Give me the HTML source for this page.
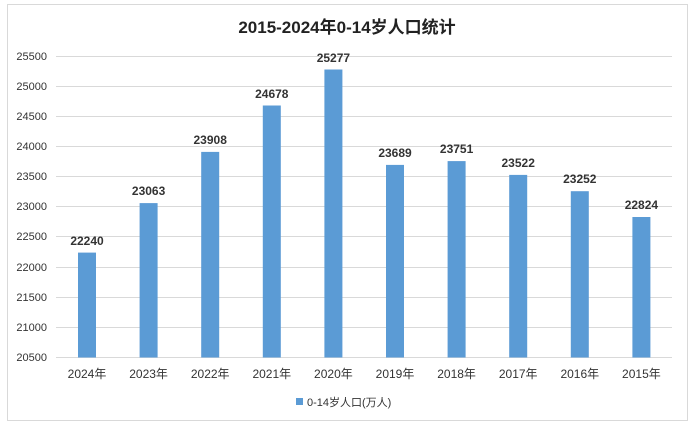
<!DOCTYPE html><html><head><style>body{margin:0;background:#fff}</style></head><body>
<svg width="695" height="428" xmlns="http://www.w3.org/2000/svg" font-family="Liberation Sans, Noto Sans CJK SC, sans-serif">
<rect x="7.5" y="4.5" width="680" height="416" fill="#fff" stroke="#d9d9d9"/>
<text x="347" y="33" text-anchor="middle" font-size="17" font-weight="bold" fill="#222">2015-2024年0-14岁人口统计</text>
<g stroke="#d9d9d9" stroke-width="1">
<line x1="56" x2="672" y1="56.5" y2="56.5"/><line x1="56" x2="672" y1="86.5" y2="86.5"/><line x1="56" x2="672" y1="116.5" y2="116.5"/><line x1="56" x2="672" y1="146.5" y2="146.5"/><line x1="56" x2="672" y1="176.5" y2="176.5"/><line x1="56" x2="672" y1="206.5" y2="206.5"/><line x1="56" x2="672" y1="236.5" y2="236.5"/><line x1="56" x2="672" y1="267.5" y2="267.5"/><line x1="56" x2="672" y1="297.5" y2="297.5"/><line x1="56" x2="672" y1="327.5" y2="327.5"/><line x1="56" x2="672" y1="357.5" y2="357.5"/>
</g>
<g font-size="11" fill="#333" text-anchor="end">
<text x="47" y="60">25500</text><text x="47" y="90">25000</text><text x="47" y="120">24500</text><text x="47" y="150">24000</text><text x="47" y="180">23500</text><text x="47" y="210">23000</text><text x="47" y="240">22500</text><text x="47" y="271">22000</text><text x="47" y="301">21500</text><text x="47" y="331">21000</text><text x="47" y="361">20500</text>
</g>
<g fill="#5b9bd5">
<rect x="78" y="252.6" width="18" height="104.9"/>
<rect x="139.6" y="203.1" width="18" height="154.4"/>
<rect x="201.2" y="151.9" width="18" height="205.6"/>
<rect x="262.8" y="105.5" width="18" height="252"/>
<rect x="324.4" y="69.5" width="18" height="288"/>
<rect x="386" y="164.9" width="18" height="192.6"/>
<rect x="447.6" y="161.1" width="18" height="196.4"/>
<rect x="509.2" y="174.9" width="18" height="182.6"/>
<rect x="570.8" y="191.2" width="18" height="166.3"/>
<rect x="632.4" y="217" width="18" height="140.5"/>
</g>
<g font-size="12" font-weight="bold" fill="#333" text-anchor="middle">
<text x="87" y="245">22240</text><text x="148.6" y="195">23063</text><text x="210.2" y="144">23908</text><text x="271.8" y="98">24678</text><text x="333.4" y="62">25277</text><text x="395" y="157">23689</text><text x="456.6" y="153">23751</text><text x="518.2" y="167">23522</text><text x="579.8" y="183">23252</text><text x="641.4" y="209">22824</text>
</g>
<g font-size="12" fill="#333" text-anchor="middle">
<text x="87" y="378">2024年</text><text x="148.6" y="378">2023年</text><text x="210.2" y="378">2022年</text><text x="271.8" y="378">2021年</text><text x="333.4" y="378">2020年</text><text x="395" y="378">2019年</text><text x="456.6" y="378">2018年</text><text x="518.2" y="378">2017年</text><text x="579.8" y="378">2016年</text><text x="641.4" y="378">2015年</text>
</g>
<rect x="296" y="398" width="7" height="7" fill="#5b9bd5"/>
<text x="307" y="406" font-size="11" fill="#333">0-14岁人口(万人)</text>
</svg></body></html>
